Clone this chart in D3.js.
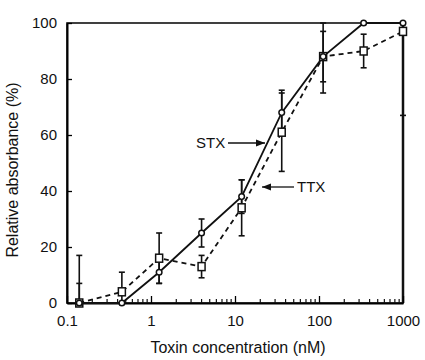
<!DOCTYPE html>
<html><head><meta charset="utf-8">
<script src="https://cdn.jsdelivr.net/npm/d3@7"></script>
<style>body{margin:0;background:#fff}svg{display:block}text{font-family:"Liberation Sans",Arial,sans-serif;fill:#111}</style>
</head><body>
<script>
const conc = [0.14, 0.45, 1.25, 4, 12, 36, 112, 340, 1000];
const stx = [0, 0, 11, 25, 38, 68, 88, 100, 100];
const stxErr = [7, 0, 4, 5, 6, 8, 9, 0, 0];
const ttx = [0, 4, 16, 13, 34, 61, 88, 90, 97];
const ttxErr = [17, 7, 9, 4, 10, 14, 13, 6, 30];
const xTicks = [0.1, 1, 10, 100, 1000];
const xTickLabels = ["0.1", "1", "10", "100", "1000"];
const yTicks = [0, 20, 40, 60, 80, 100];

const W = 425, H = 360;
const m = {l: 67, r: 22, t: 23, b: 57};
const svg = d3.select("body").append("svg").attr("width", W).attr("height", H);
const x = d3.scaleLog().domain([0.1, 1000]).range([m.l, W - m.r]);
const y = d3.scaleLinear().domain([0, 100]).range([H - m.b, m.t]);
const clampY = v => Math.max(0, Math.min(100, v));
const FONT = "Liberation Sans, Arial, sans-serif";

// frame
svg.append("rect").attr("x", x(0.1)).attr("y", y(100)).attr("width", x(1000) - x(0.1)).attr("height", y(0) - y(100))
  .attr("fill", "none").attr("stroke", "#111").attr("stroke-width", 1.6);
svg.append("line").attr("x1", x(1000)).attr("x2", x(1000)).attr("y1", y(100)).attr("y2", y(0)).attr("stroke", "#111").attr("stroke-width", 2.5);

// y axis (ticks inward)
const yAxis = d3.axisLeft(y).tickValues(yTicks).tickSizeInner(-5).tickSizeOuter(0).tickPadding(10).tickFormat(d3.format("d"));
const gy = svg.append("g").attr("transform", `translate(${x(0.1)},0)`).call(yAxis);
gy.select(".domain").attr("stroke-width", 2);
gy.selectAll("text").attr("font-size", 15).attr("font-family", FONT).attr("fill", "#111");
gy.selectAll("line").attr("stroke-width", 1.3);

// x axis (ticks inward)
const minor = [];
for (let e = -1; e < 3; e++) for (let k = 2; k <= 9; k++) minor.push(k * Math.pow(10, e));
const gx = svg.append("g").attr("transform", `translate(0,${y(0)})`);
gx.call(d3.axisBottom(x).tickValues(xTicks).tickSizeInner(-7).tickSizeOuter(0).tickPadding(12).tickFormat((d, i) => xTickLabels[i]));
gx.select(".domain").attr("stroke-width", 2);
gx.selectAll("text").attr("font-size", 15).attr("font-family", FONT).attr("fill", "#111");
gx.selectAll(".tick line").attr("stroke-width", 1.3);
gx.selectAll(".minor").data(minor).enter().append("line").attr("class", "minor")
  .attr("x1", d => x(d)).attr("x2", d => x(d)).attr("y1", 0).attr("y2", -4).attr("stroke", "#111").attr("stroke-width", 1.2);

// axis titles
svg.append("text").attr("x", 238).attr("y", 353).attr("text-anchor", "middle").attr("font-size", 16).text("Toxin concentration (nM)");
svg.append("text").attr("transform", `translate(18,170) rotate(-90)`).attr("text-anchor", "middle").attr("font-size", 16).text("Relative absorbance (%)");

// error bars
function errBars(vals, errs, cls) {
  const g = svg.append("g").attr("class", cls);
  conc.forEach((c, i) => {
    if (!errs[i]) return;
    const cx = x(c), y1 = y(clampY(vals[i] + errs[i])), y2 = y(clampY(vals[i] - errs[i]));
    g.append("line").attr("x1", cx).attr("x2", cx).attr("y1", y1).attr("y2", y2).attr("stroke", "#111").attr("stroke-width", 1.6);
    [y1, y2].forEach(yy => g.append("line").attr("x1", cx - 3).attr("x2", cx + 3).attr("y1", yy).attr("y2", yy).attr("stroke", "#111").attr("stroke-width", 1.6));
  });
}
errBars(ttx, ttxErr, "ttxErr");
errBars(stx, stxErr, "stxErr");

const line = vals => d3.line().x((d, i) => x(conc[i])).y(d => y(d))(vals);
svg.append("path").attr("d", line(ttx)).attr("fill", "none").attr("stroke", "#111").attr("stroke-width", 1.8).attr("stroke-dasharray", "5,4");
svg.append("path").attr("d", line(stx)).attr("fill", "none").attr("stroke", "#111").attr("stroke-width", 1.8);

// markers
svg.selectAll(".sq").data(ttx).enter().append("rect").attr("class", "sq")
  .attr("x", (d, i) => x(conc[i]) - 3.5).attr("y", d => y(d) - 4).attr("width", 7).attr("height", 8)
  .attr("fill", "#fff").attr("stroke", "#111").attr("stroke-width", 1.5);
svg.selectAll(".ci").data(stx).enter().append("circle").attr("class", "ci")
  .attr("cx", (d, i) => x(conc[i])).attr("cy", d => y(d)).attr("r", 2.8)
  .attr("fill", "#fff").attr("stroke", "#111").attr("stroke-width", 1.5);

// annotations
const defs = svg.append("defs");
defs.append("marker").attr("id", "ah").attr("viewBox", "0 0 10 10").attr("refX", 10).attr("refY", 5)
  .attr("markerWidth", 7).attr("markerHeight", 7).attr("orient", "auto")
  .append("path").attr("d", "M0,1 L10,5 L0,9 Z").attr("fill", "#111");
svg.append("text").attr("x", 196).attr("y", 148).attr("font-size", 15).text("STX");
svg.append("line").attr("x1", 228).attr("x2", 265).attr("y1", 143).attr("y2", 143).attr("stroke", "#111").attr("stroke-width", 1.3).attr("marker-end", "url(#ah)");
svg.append("text").attr("x", 297).attr("y", 192).attr("font-size", 15).text("TTX");
svg.append("line").attr("x1", 294).attr("x2", 262).attr("y1", 187).attr("y2", 187).attr("stroke", "#111").attr("stroke-width", 1.3).attr("marker-end", "url(#ah)");
</script>
</body></html>
